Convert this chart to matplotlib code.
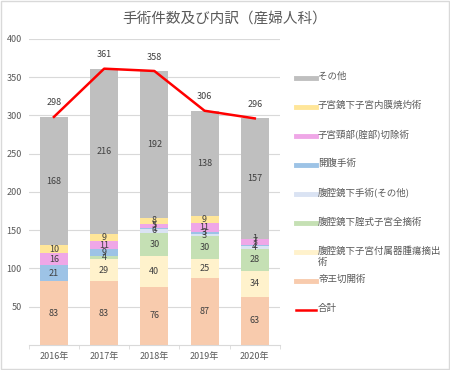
import matplotlib.pyplot as plt
import numpy as np
from matplotlib.lines import Line2D
from matplotlib.patches import Rectangle

plt.rcParams['font.family'] = ['Noto Sans CJK JP', 'DejaVu Sans']

# data (bottom of stack first)
years = ['2016年', '2017年', '2018年', '2019年', '2020年']
series_names = ['帝王切開術', '腹腔鏡下子宮付属器腫瘍摘出術', '腹腔鏡下腟式子宮全摘術',
                '腹腔鏡下手術(その他)', '開腹手術', '子宮頸部(腟部)切除術',
                '子宮鏡下子宮内膜焼灼術', 'その他']
cesarean = [83, 83, 76, 87, 63]
lap_adnexa = [0, 29, 40, 25, 34]
lap_hyst = [0, 4, 30, 30, 28]
lap_other = [0, 0, 6, 3, 4]
open_surg = [21, 9, 1, 3, 2]
cervix = [16, 11, 5, 11, 7]
ablation = [10, 9, 8, 9, 1]
other = [168, 216, 192, 138, 157]
totals = [298, 361, 358, 306, 296]

series = [cesarean, lap_adnexa, lap_hyst, lap_other, open_surg, cervix, ablation, other]
colors = ['#F8CBAD', '#FFF2CC', '#C5E0B4', '#DAE3F3', '#9DC3E6', '#EFA7E7', '#FFE699', '#BFBFBF']
txt = '#595959'

fig = plt.figure(figsize=(4.5, 3.7), dpi=100)
ax = fig.add_axes([0.064, 0.068, 0.558, 0.827])

x = np.arange(len(years))
bottom = np.zeros(len(years))
for vals, col in zip(series, colors):
    vals = np.array(vals, dtype=float)
    ax.bar(x, vals, 0.56, bottom=bottom, color=col, zorder=2)
    for xi, b, v in zip(x, bottom, vals):
        if v > 0:
            ax.text(xi, b + v / 2, f'{int(v)}', ha='center', va='center',
                    fontsize=6.5, color='#404040', zorder=3)
    bottom += vals

# total line
ax.plot(x, totals, color='#FF0000', lw=1.8, zorder=4)
for xi, t in zip(x, totals):
    ax.annotate(f'{t}', (xi, t), xytext=(0, 10), textcoords='offset points',
                ha='center', va='center', fontsize=6.5, color='#404040')

ax.set_xlim(-0.5, len(years) - 0.5)
ax.set_ylim(0, 400)
ax.set_yticks(range(50, 401, 50))
ax.set_xticks(x)
ax.set_xticklabels(years)
ax.set_xticks(np.arange(-0.5, len(years), 1), minor=True)
ax.tick_params(axis='y', length=0, labelsize=6.5, labelcolor=txt, pad=5)
ax.tick_params(axis='x', which='major', length=0, labelsize=6.5, labelcolor=txt, pad=5)
ax.tick_params(axis='x', which='minor', length=3, color='#D9D9D9')
ax.grid(axis='y', color='#D9D9D9', lw=0.8, zorder=0)
for s in ['top', 'right', 'left']:
    ax.spines[s].set_visible(False)
ax.spines['bottom'].set_color('#D9D9D9')

fig.text(0.5, 0.95, '手術件数及び内訳（産婦人科）', ha='center', va='center',
         fontsize=10.5, color=txt)

# legend on the right (top entry = top of stack)
leg_names = ['その他', '子宮鏡下子宮内膜焼灼術', '子宮頸部(腟部)切除術', '開腹手術',
             '腹腔鏡下手術(その他)', '腹腔鏡下腟式子宮全摘術',
             '腹腔鏡下子宮付属器腫瘍摘出\n術', '帝王切開術']
leg_colors = colors[::-1]
y0 = 1 - 78 / 370
dy = 29 / 370
for i, (name, col) in enumerate(zip(leg_names, leg_colors)):
    y = y0 - i * dy
    fig.add_artist(Line2D([296 / 450, 316 / 450], [y, y], color=col, lw=3.5))
    fig.text(318 / 450, y + 6 / 370, name, ha='left', va='top', fontsize=6.8,
             color=txt, linespacing=1.25)
y = y0 - 8 * dy
fig.add_artist(Line2D([296 / 450, 316 / 450], [y, y], color='#FF0000', lw=1.8))
fig.text(318 / 450, y + 6 / 370, '合計', ha='left', va='top', fontsize=6.8, color=txt)

fig.add_artist(Rectangle((0.002, 0.003), 0.996, 0.994, transform=fig.transFigure,
                         fill=False, edgecolor='#D9D9D9', lw=1))

fig.savefig('out.png', dpi=100)
